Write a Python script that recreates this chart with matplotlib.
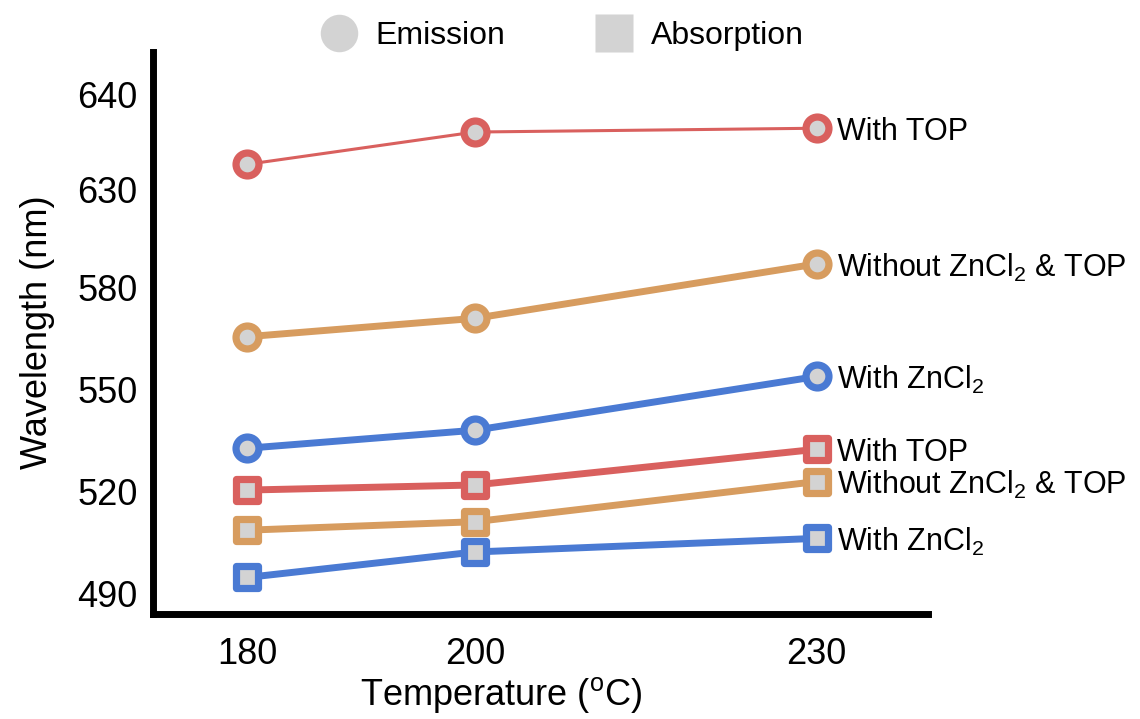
import numpy as np
import matplotlib
matplotlib.use("Agg")
import matplotlib.pyplot as plt
from matplotlib.lines import Line2D
from matplotlib.markers import MarkerStyle

plt.rcParams["font.family"] = ["Liberation Sans", "DejaVu Sans"]
plt.rcParams["mathtext.fontset"] = "custom"
plt.rcParams["mathtext.rm"] = "Liberation Sans"
plt.rcParams["mathtext.it"] = "Liberation Sans:italic"

# --- data -------------------------------------------------------------
temperatures = [180, 200, 230]

emission_with_top = [632.6, 636.0, 636.4]
emission_without = [565.4, 570.8, 591.8]
emission_with_zncl2 = [532.6, 537.9, 553.7]

absorption_with_top = [520.3, 521.8, 532.3]
absorption_without = [508.5, 511.0, 522.8]
absorption_with_zncl2 = [494.6, 502.1, 506.1]

y_ticks = [490, 520, 550, 580, 630, 640]
x_ticks = [180, 200, 230]

label_with_top = "With TOP"
label_without = r"Without ZnCl$_\mathregular{2}$ & TOP"
label_with_zncl2 = r"With ZnCl$_\mathregular{2}$"

RED = "#D9605E"
ORANGE = "#D79C5F"
BLUE = "#4A7AD3"
FACE = "#D3D3D3"

# --- broken wavelength axis: piecewise-linear scale --------------------
knot_values = np.array([460, 490, 520, 550, 580, 630, 640, 660], dtype=float)
knot_pos = np.array([-102, 0, 102, 204, 306, 404, 499, 689], dtype=float)


def forward(v):
    return np.interp(v, knot_values, knot_pos)


def inverse(p):
    return np.interp(p, knot_pos, knot_values)


fig = plt.figure(figsize=(11.4, 7.19), dpi=100)
ax = fig.add_axes([0.1342, 0.1467, 0.6794, 0.7816])
ax.set_yscale("function", functions=(forward, inverse))

circle = MarkerStyle("o")
square = MarkerStyle("s", joinstyle="round")

series = [
    (emission_with_top, RED, 2.2, circle, label_with_top),
    (emission_without, ORANGE, 5.0, circle, label_without),
    (emission_with_zncl2, BLUE, 5.0, circle, label_with_zncl2),
    (absorption_with_top, RED, 5.0, square, label_with_top),
    (absorption_without, ORANGE, 5.0, square, label_without),
    (absorption_with_zncl2, BLUE, 5.0, square, label_with_zncl2),
]

for values, color, lw, marker, label in series:
    ax.plot(temperatures, values, color=color, lw=lw, marker=marker,
            ms=16.5, mew=5.2, mfc=FACE, mec=color,
            solid_capstyle="round", solid_joinstyle="round")
    ax.annotate(label, xy=(temperatures[-1], values[-1]),
                xytext=(15, 0), textcoords="offset points",
                ha="left", va="center_baseline", fontsize=22)

ax.set_xlim(171.75, 239.74)
ax.set_ylim(484, 644.47)
ax.set_xticks(x_ticks)
ax.set_yticks(y_ticks)
ax.set_yticklabels([str(t) for t in y_ticks])
ax.yaxis.set_minor_locator(matplotlib.ticker.NullLocator())
ax.tick_params(axis="both", length=0, labelsize=26)
ax.tick_params(axis="y", pad=11)
ax.tick_params(axis="x", pad=17)

for side in ("top", "right"):
    ax.spines[side].set_visible(False)
for side in ("left", "bottom"):
    ax.spines[side].set_linewidth(5)
    ax.spines[side].set_color("black")
    ax.spines[side].set_capstyle("projecting")

ax.set_ylabel("Wavelength (nm)", fontsize=26)
ax.set_xlabel(r"Temperature ($^\mathregular{o}$C)", fontsize=26)
ax.yaxis.set_label_coords(-0.127, 0.5)
ax.xaxis.set_label_coords(0.449, -0.109)

handles = [
    Line2D([], [], ls="none", marker="o", ms=27, mfc=FACE, mec="none"),
    Line2D([], [], ls="none", marker="s", ms=27, mfc=FACE, mec="none"),
]
fig.legend(handles, ["Emission", "Absorption"], loc="center",
           bbox_to_anchor=(0.4930, 0.950), ncol=2, frameon=False,
           fontsize=23, handlelength=1.2, handletextpad=0.55,
           columnspacing=2.8)

fig.savefig("out.png", dpi=100)
